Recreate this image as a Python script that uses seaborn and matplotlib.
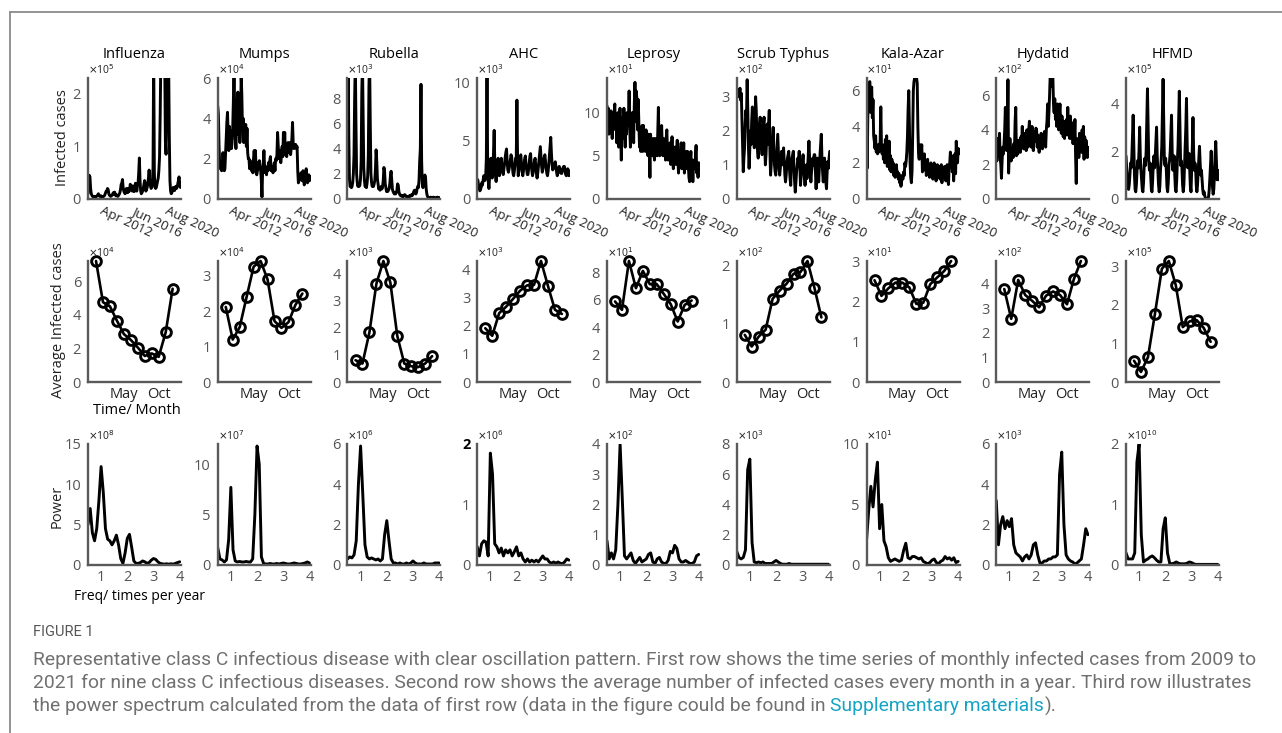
import numpy as np
import pandas as pd
import matplotlib
matplotlib.use('Agg')
import matplotlib.pyplot as plt
import seaborn as sns
from matplotlib.lines import Line2D
from matplotlib.transforms import ScaledTranslation
from matplotlib import font_manager

# ---------------- data ----------------
diseases = ['Influenza', 'Mumps', 'Rubella', 'AHC', 'Leprosy', 'Scrub Typhus',
            'Kala-Azar', 'Hydatid', 'HFMD']

date_ticks = [31, 81, 131]            # month index from Sep 2009
date_labels = ['Apr 2012', 'Jun 2016', 'Aug 2020']
months = list(range(1, 13))
month_ticks = [5, 10]
month_labels = ['May', 'Oct']
freq = [k / 12 for k in range(6, 49)]  # times per year
freq_ticks = [1, 2, 3, 4]

# row 1: monthly infected cases (scaled by 10^exp)
ts_influenza = [
    0.10, 0.30, 0.45, 0.42, 0.20, 0.10, 0.07, 0.05, 0.04, 0.04, 0.05, 0.04,
    0.04, 0.05, 0.06, 0.08, 0.10, 0.07, 0.05, 0.05, 0.06, 0.05, 0.04, 0.04,
    0.05, 0.06, 0.08, 0.12, 0.15, 0.14, 0.20, 0.18, 0.10, 0.07, 0.06, 0.05,
    0.06, 0.07, 0.10, 0.12, 0.09, 0.13, 0.08, 0.06, 0.08, 0.06, 0.05, 0.07,
    0.09, 0.12, 0.18, 0.28, 0.30, 0.37, 0.22, 0.15, 0.12, 0.10, 0.12, 0.20,
    0.15, 0.12, 0.20, 0.14, 0.18, 0.28, 0.22, 0.18, 0.15, 0.25, 0.18, 0.14,
    0.20, 0.30, 0.22, 0.15, 0.25, 0.30, 0.50, 0.78, 0.35, 0.15, 0.10, 0.12,
    0.15, 0.20, 0.28, 0.35, 0.30, 0.15, 0.18, 0.22, 0.30, 0.40, 0.55, 0.30,
    0.25, 0.20, 0.22, 0.30, 0.60, 2.80, 0.50, 0.22, 0.20, 0.22, 0.28, 0.35,
    0.40, 0.55, 0.80, 1.60, 2.70, 3.20, 3.00, 2.80, 3.10, 3.40, 2.60, 1.10,
    0.85, 1.80, 2.70, 3.00, 2.60, 1.20, 0.35, 0.15, 0.10, 0.12, 0.18, 0.22,
    0.20, 0.16, 0.20, 0.24, 0.20, 0.22, 0.28, 0.35, 0.42, 0.30, 0.22, 0.28]
ts_mumps = [
    4.6, 4.2, 2.6, 1.7, 1.5, 1.6, 1.4, 1.8, 2.3, 1.9, 1.4, 1.5,
    2.2, 3.0, 3.8, 4.3, 3.2, 2.4, 3.6, 2.6, 3.4, 2.5, 2.8, 3.5,
    4.8, 6.2, 4.5, 3.0, 2.5, 4.0, 3.2, 5.3, 4.0, 4.3, 2.8, 3.4,
    6.2, 5.2, 3.5, 4.0, 2.8, 3.3, 3.0, 3.7, 2.6, 3.5, 2.3, 2.0,
    2.0, 1.5, 1.9, 1.6, 1.4, 1.6, 1.3, 2.0, 2.4, 1.8, 2.4, 1.3,
    1.2, 1.4, 1.8, 1.5, 1.9, 1.6, 1.4, 0.9, 0.1, 1.4, 1.8, 2.4,
    1.6, 1.3, 1.5, 1.2, 1.6, 1.4, 1.8, 1.5, 1.9, 2.1, 1.4, 1.6,
    1.5, 1.3, 1.6, 1.8, 1.4, 2.0, 1.9, 2.2, 3.3, 2.6, 2.0, 2.4,
    2.0, 1.8, 2.2, 2.6, 2.1, 3.3, 2.4, 3.3, 2.2, 2.6, 2.1, 2.5,
    2.8, 2.3, 2.6, 2.8, 2.2, 2.5, 3.0, 3.8, 2.8, 2.5, 2.7, 2.6,
    2.7, 2.5, 2.6, 1.4, 0.8, 0.9, 1.2, 1.0, 1.3, 1.1, 0.9, 1.4,
    1.0, 0.7, 0.9, 1.2, 1.5, 1.1, 0.8, 1.0, 1.2, 0.9, 1.1, 1.0]
ts_rubella = [
    3.5, 11.0, 5.0, 1.6, 1.0, 1.1, 0.9, 1.0, 1.3, 2.0, 3.5, 8.0,
    11.0, 6.0, 2.0, 1.3, 1.0, 1.2, 1.0, 1.1, 1.6, 3.0, 8.5, 11.0,
    7.0, 2.5, 1.5, 1.0, 1.1, 0.9, 1.2, 1.8, 3.5, 9.0, 11.0, 6.0,
    2.0, 1.3, 1.0, 1.2, 1.0, 1.2, 1.5, 2.4, 3.9, 3.0, 1.6, 1.2,
    0.8, 0.9, 0.7, 0.8, 1.0, 0.8, 1.0, 1.5, 2.5, 2.2, 1.2, 0.9,
    0.6, 0.7, 0.6, 0.7, 0.8, 1.2, 1.8, 2.2, 1.5, 0.8, 0.6, 0.5,
    0.4, 0.5, 0.4, 0.5, 0.7, 1.2, 1.1, 0.6, 0.4, 0.3, 0.25, 0.3,
    0.2, 0.25, 0.2, 0.3, 0.35, 0.3, 0.2, 0.2, 0.15, 0.2, 0.2, 0.25,
    0.2, 0.3, 0.25, 0.35, 0.3, 0.45, 0.6, 0.7, 0.55, 0.4, 0.5, 0.8,
    1.0, 0.9, 1.5, 3.0, 4.0, 9.1, 3.0, 1.2, 0.9, 1.2, 1.6, 1.9,
    1.7, 0.8, 0.4, 0.2, 0.15, 0.1, 0.12, 0.1, 0.15, 0.1, 0.12, 0.1,
    0.15, 0.1, 0.12, 0.1, 0.1, 0.12, 0.15, 0.1, 0.12, 0.1, 0.1, 0.12]
ts_ahc = [
    1.7, 1.6, 1.2, 0.9, 0.7, 0.8, 1.0, 1.4, 1.2, 1.6, 2.0, 1.8,
    1.6, 2.0, 3.5, 10.8, 3.0, 1.5, 0.9, 2.0, 3.0, 3.5, 2.4, 1.8,
    2.5, 4.0, 5.9, 3.0, 2.0, 1.5, 2.2, 3.0, 3.5, 2.6, 2.0, 2.4,
    3.0, 3.5, 2.8, 2.3, 2.1, 2.6, 3.0, 3.6, 4.0, 4.3, 3.2, 2.5,
    2.3, 2.6, 3.0, 3.4, 3.8, 3.6, 2.8, 2.2, 2.0, 2.4, 3.0, 3.5,
    3.5, 8.5, 3.5, 2.0, 2.4, 3.0, 3.6, 3.8, 3.0, 2.4, 2.0, 2.4,
    3.0, 3.5, 3.7, 3.0, 2.5, 2.1, 2.1, 2.6, 3.2, 3.7, 3.9, 3.0,
    2.4, 2.0, 2.3, 2.8, 3.3, 3.5, 2.8, 2.2, 1.8, 2.2, 2.8, 3.5,
    4.0, 4.5, 3.6, 2.8, 2.3, 2.6, 3.2, 3.6, 3.8, 3.2, 2.6, 2.2,
    2.0, 2.4, 3.0, 3.8, 4.6, 5.3, 4.0, 3.0, 2.5, 2.6, 2.8, 3.0,
    3.2, 2.8, 2.3, 2.0, 2.2, 2.6, 2.8, 2.6, 2.3, 2.2, 2.2, 2.5,
    2.7, 2.8, 2.8, 2.4, 2.1, 2.0, 2.3, 2.6, 2.5, 2.0, 2.2, 2.4]
ts_leprosy = [
    10.8, 9.0, 10.5, 7.5, 9.8, 8.0, 10.2, 9.0, 7.0, 9.5, 8.5, 10.0,
    11.0, 8.0, 9.5, 6.5, 8.8, 10.0, 6.0, 9.0, 10.5, 7.5, 4.5, 8.5,
    9.5, 7.0, 10.5, 8.0, 6.0, 9.0, 7.5, 10.0, 8.5, 9.0, 12.5, 8.0,
    6.0, 9.5, 7.0, 10.0, 8.5, 6.5, 11.0, 13.5, 9.0, 12.5, 11.5, 8.0,
    11.5, 8.5, 6.0, 8.0, 5.5, 7.0, 8.5, 5.5, 8.5, 6.5, 7.5, 5.5,
    8.0, 6.0, 7.0, 5.0, 7.5, 6.0, 2.5, 7.5, 5.5, 6.5, 5.0, 7.0,
    6.0, 4.5, 7.0, 5.5, 6.5, 5.0, 7.5, 10.6, 6.5, 5.0, 7.0, 5.5,
    8.5, 6.0, 5.0, 7.0, 5.5, 6.5, 4.5, 7.0, 8.0, 5.5, 4.5, 6.0,
    5.0, 6.5, 4.0, 5.5, 7.2, 5.0, 3.5, 6.0, 5.0, 6.0, 4.0, 5.5,
    6.8, 4.5, 3.0, 5.5, 4.0, 5.5, 6.5, 3.5, 5.0, 4.5, 6.5, 3.0,
    5.0, 4.0, 5.5, 3.5, 5.5, 4.0, 2.5, 2.0, 4.5, 5.5, 3.0, 4.5,
    2.0, 4.0, 4.5, 3.5, 5.0, 6.2, 3.0, 4.0, 2.5, 4.2, 3.5, 4.0]
ts_scrub = [
    3.2, 3.1, 3.2, 3.0, 3.1, 3.25, 2.9, 3.1, 2.3, 1.5, 0.8, 1.2,
    1.5, 2.2, 2.6, 2.4, 3.5, 2.6, 1.5, 0.9, 1.5, 2.0, 1.6, 2.3,
    2.7, 2.2, 1.8, 1.5, 2.3, 3.0, 2.6, 1.8, 1.4, 1.2, 1.7, 2.2,
    2.4, 1.9, 1.5, 1.3, 1.8, 2.2, 2.4, 1.6, 1.0, 1.3, 1.8, 2.2,
    1.6, 2.2, 2.6, 1.4, 0.7, 1.0, 1.5, 1.8, 2.1, 1.5, 1.0, 0.8,
    0.7, 1.1, 1.5, 1.9, 1.4, 0.9, 0.7, 0.9, 1.2, 1.4, 1.3, 1.0,
    1.5, 1.1, 0.7, 0.5, 0.7, 1.0, 1.2, 1.3, 1.4, 0.9, 0.6, 0.4,
    1.0, 1.2, 1.3, 1.4, 0.9, 0.5, 0.2, 0.5, 0.8, 1.0, 1.2, 1.1,
    1.4, 1.0, 0.4, 0.7, 0.9, 1.1, 1.3, 0.9, 0.6, 0.4, 0.6, 1.0,
    0.6, 0.9, 1.3, 1.7, 1.2, 0.8, 0.5, 0.8, 1.0, 1.2, 1.0, 1.3,
    1.3, 0.8, 0.3, 0.8, 1.2, 0.9, 0.5, 0.9, 1.3, 1.6, 1.9, 1.2,
    0.8, 0.5, 0.9, 1.2, 0.8, 0.5, 0.3, 0.8, 1.1, 0.9, 1.2, 1.4]
ts_kala = [
    3.8, 1.7, 4.5, 6.0, 5.5, 6.5, 4.8, 5.8, 6.2, 4.5, 5.5, 3.5,
    3.2, 2.8, 3.5, 2.6, 2.9, 2.5, 3.0, 2.6, 2.8, 3.2, 5.1, 3.0,
    2.5, 2.8, 2.2, 3.0, 2.0, 3.3, 2.2, 3.5, 1.8, 2.6, 2.0, 3.2,
    1.6, 2.4, 1.5, 2.2, 1.7, 2.0, 1.3, 1.8, 1.2, 1.6, 1.9, 1.3,
    1.5, 1.1, 1.4, 0.9, 1.2, 0.7, 1.0, 1.3, 1.1, 1.5, 1.3, 2.0,
    1.8, 2.1, 2.6, 3.5, 5.0, 6.0, 4.0, 2.0, 1.2, 0.9, 1.5, 3.5,
    6.0, 6.5, 6.7, 6.7, 6.65, 6.7, 6.4, 4.0, 2.5, 2.2, 2.8, 3.0,
    2.6, 3.0, 1.5, 2.2, 1.8, 2.5, 1.6, 2.0, 1.3, 1.8, 2.2, 1.5,
    1.9, 1.2, 1.7, 2.0, 1.4, 1.8, 1.1, 1.6, 2.0, 1.3, 1.7, 1.0,
    1.5, 1.9, 1.2, 1.6, 1.8, 1.1, 1.5, 1.9, 0.9, 1.4, 1.7, 1.2,
    1.8, 1.3, 1.0, 1.5, 1.9, 1.2, 0.8, 1.6, 2.0, 2.6, 1.8, 2.4,
    1.5, 2.2, 1.0, 1.7, 2.5, 1.4, 3.2, 2.4, 2.0, 2.8, 2.5, 2.7]
ts_hydatid = [
    3.0, 2.2, 3.5, 2.5, 3.2, 3.8, 2.4, 2.0, 1.2, 2.2, 3.0, 2.6,
    3.2, 4.0, 5.3, 3.5, 2.8, 3.6, 6.9, 1.5, 2.5, 3.5, 2.8, 2.2,
    2.6, 3.0, 2.4, 3.2, 2.8, 4.5, 5.3, 2.5, 3.0, 2.6, 3.4, 2.8,
    3.2, 2.7, 3.6, 3.0, 4.2, 3.3, 2.9, 3.8, 3.2, 3.6, 2.8, 4.0,
    3.5, 3.0, 4.0, 4.5, 3.4, 3.8, 3.0, 4.2, 3.5, 2.8, 3.9, 3.3,
    3.6, 4.1, 4.0, 3.0, 3.7, 3.2, 2.7, 3.5, 3.0, 3.8, 3.4, 2.9,
    3.5, 3.1, 3.9, 3.4, 3.0, 4.0, 4.5, 5.5, 4.2, 5.0, 6.0, 7.2,
    7.2, 6.5, 7.0, 7.2, 5.5, 5.0, 5.8, 4.6, 5.0, 4.2, 5.5, 4.6,
    4.0, 5.0, 5.5, 4.4, 3.8, 4.8, 4.0, 3.6, 4.5, 3.5, 4.2, 3.8,
    4.6, 3.7, 5.3, 3.8, 4.2, 3.5, 4.8, 4.0, 3.5, 4.4, 3.2, 4.0,
    3.5, 4.6, 2.5, 0.9, 3.5, 2.8, 3.4, 2.4, 3.8, 3.0, 3.6, 2.7,
    4.0, 3.3, 4.2, 2.3, 3.6, 2.8, 3.4, 3.0, 2.4, 3.0, 2.5, 2.8]
ts_hfmd = [
    1.8, 1.3, 0.9, 0.5, 0.4, 0.6, 1.0, 1.5, 1.3, 1.8, 2.6, 3.5,
    2.2, 1.0, 0.4, 0.3, 0.6, 1.2, 1.6, 1.3, 2.0, 3.0, 1.8, 1.2,
    0.8, 0.4, 0.3, 0.7, 1.4, 1.7, 1.4, 2.0, 3.2, 4.6, 3.0, 1.6,
    1.2, 1.5, 0.9, 0.4, 0.3, 0.8, 1.5, 1.8, 1.3, 1.8, 2.4, 3.0,
    1.8, 1.2, 0.6, 0.3, 0.5, 1.2, 1.6, 2.2, 3.5, 5.0, 3.2, 1.6,
    1.4, 1.7, 1.2, 0.5, 0.3, 0.7, 1.4, 1.6, 2.0, 2.8, 3.5, 2.0,
    1.2, 1.5, 1.8, 1.0, 0.4, 0.3, 0.8, 1.6, 2.2, 3.4, 4.5, 3.0,
    1.4, 1.6, 1.3, 0.6, 0.3, 0.6, 1.4, 2.2, 3.0, 4.2, 2.4, 1.3,
    1.6, 1.9, 1.2, 0.5, 0.3, 1.2, 2.2, 3.4, 2.0, 1.2, 1.5, 1.3,
    0.6, 0.3, 0.6, 1.2, 1.7, 2.2, 1.5, 1.0, 1.2, 0.8, 0.4, 0.2,
    0.3, 0.15, 0.05, 0.0, 0.0, 0.0, 0.02, 0.1, 0.4, 0.9, 1.5, 2.0,
    1.2, 0.5, 0.2, 0.4, 1.0, 1.8, 2.4, 1.6, 0.8, 1.2, 1.0, 0.8]

# row 2: average infected cases per calendar month (scaled by 10^exp)
avg_influenza = [7.2, 4.75, 4.5, 3.65, 2.85, 2.5, 2.05, 1.55, 1.7, 1.5, 2.95, 5.55]
avg_mumps = [2.12, 1.2, 1.55, 2.41, 3.26, 3.42, 2.9, 1.72, 1.53, 1.69, 2.18, 2.5]
avg_rubella = [0.8, 0.68, 1.83, 3.62, 4.45, 3.66, 1.69, 0.68, 0.58, 0.55, 0.68, 0.95]
avg_ahc = [1.92, 1.65, 2.46, 2.69, 2.97, 3.26, 3.45, 3.47, 4.32, 3.43, 2.58, 2.43]
avg_leprosy = [5.87, 5.26, 8.82, 6.84, 8.1, 7.13, 7.13, 6.42, 5.67, 4.41, 5.62, 5.94]
avg_scrub = [0.81, 0.61, 0.78, 0.9, 1.43, 1.57, 1.69, 1.86, 1.89, 2.08, 1.62, 1.11]
avg_kala = [2.54, 2.15, 2.34, 2.48, 2.48, 2.36, 1.95, 1.98, 2.44, 2.61, 2.77, 3.02]
avg_hydatid = [3.78, 2.57, 4.15, 3.54, 3.3, 3.04, 3.51, 3.68, 3.54, 3.16, 4.19, 4.92]
avg_hfmd = [0.55, 0.26, 0.64, 1.76, 2.93, 3.13, 2.5, 1.42, 1.57, 1.6, 1.4, 1.04]

# row 3: power spectrum (scaled by 10^exp)
pw_influenza = [5.0, 7.0, 4.0, 3.0, 4.5, 8.0, 12.2, 9.0, 4.5, 3.2,
                3.0, 2.5, 3.0, 3.7, 2.5, 0.8, 0.2, 1.5, 3.3, 3.8,
                2.2, 0.5, 0.2, 0.2, 0.3, 0.5, 0.4, 0.2, 0.3, 0.6,
                0.8, 0.7, 0.4, 0.2, 0.15, 0.1, 0.15, 0.1, 0.15, 0.1,
                0.2, 0.3, 0.4]
pw_mumps = [1.7, 0.6, 0.5, 0.3, 0.5, 2.5, 7.7, 1.5, 0.4, 0.3,
            0.35, 0.3, 0.3, 0.35, 0.3, 0.3, 0.6, 5.0, 11.8, 10.0,
            0.8, 0.15, 0.1, 0.1, 0.15, 0.1, 0.1, 0.15, 0.1, 0.15,
            0.2, 0.15, 0.1, 0.1, 0.15, 0.2, 0.15, 0.1, 0.1, 0.15,
            0.2, 0.3, 0.2]
pw_rubella = [0.3, 0.4, 0.35, 0.5, 1.2, 4.0, 5.9, 3.5, 1.0, 0.4,
              0.3, 0.35, 0.3, 0.25, 0.3, 0.2, 0.3, 1.5, 2.2, 1.2,
              0.3, 0.1, 0.1, 0.05, 0.1, 0.05, 0.05, 0.1, 0.05, 0.1,
              0.2, 0.1, 0.05, 0.05, 0.05, 0.1, 0.05, 0.05, 0.05, 0.05,
              0.1, 0.1, 0.1]
pw_ahc = [0.3, 0.15, 0.35, 0.4, 0.38, 0.15, 1.85, 1.5, 0.35, 0.3,
          0.2, 0.28, 0.15, 0.25, 0.2, 0.25, 0.15, 0.22, 0.3, 0.15,
          0.2, 0.1, 0.05, 0.1, 0.05, 0.08, 0.05, 0.08, 0.05, 0.1,
          0.15, 0.1, 0.1, 0.05, 0.03, 0.05, 0.03, 0.05, 0.03, 0.02,
          0.05, 0.1, 0.08]
pw_leprosy = [0.8, 0.2, 0.4, 0.2, 0.5, 2.0, 4.0, 2.2, 0.3, 0.2,
              0.3, 0.4, 0.15, 0.05, 0.15, 0.25, 0.1, 0.15, 0.2, 0.35,
              0.4, 0.1, 0.05, 0.2, 0.25, 0.1, 0.05, 0.05, 0.15, 0.45,
              0.4, 0.65, 0.55, 0.2, 0.1, 0.1, 0.15, 0.1, 0.05, 0.05,
              0.1, 0.3, 0.35]
pw_scrub = [0.9, 0.5, 0.4, 0.5, 1.0, 6.3, 7.0, 1.5, 0.2, 0.15,
            0.2, 0.15, 0.2, 0.1, 0.1, 0.1, 0.1, 0.2, 0.3, 0.2,
            0.1, 0.05, 0.05, 0.05, 0.1, 0.05, 0.05, 0.05, 0.05, 0.05,
            0.05, 0.05, 0.05, 0.05, 0.05, 0.05, 0.05, 0.05, 0.05, 0.05,
            0.05, 0.05, 0.05]
pw_kala = [2.0, 4.5, 6.5, 4.8, 7.0, 8.5, 3.0, 5.0, 2.0, 1.5,
           0.6, 0.3, 0.4, 0.5, 0.4, 0.3, 0.4, 1.2, 1.8, 0.6,
           0.5, 0.7, 0.7, 0.6, 0.5, 0.6, 0.3, 0.2, 0.1, 0.2,
           0.4, 0.5, 0.2, 0.1, 0.3, 0.4, 0.7, 0.5, 0.6, 0.4,
           0.6, 0.2, 0.3]
pw_hydatid = [3.2, 1.0, 2.0, 2.4, 1.8, 2.2, 1.9, 2.3, 1.0, 0.6,
              0.5, 0.4, 0.2, 0.4, 0.5, 0.3, 0.5, 1.0, 1.1, 0.5,
              0.1, 0.1, 0.2, 0.2, 0.3, 0.3, 0.4, 0.4, 0.5, 4.5,
              5.6, 2.0, 0.5, 0.3, 0.2, 0.15, 0.05, 0.1, 0.2, 0.3,
              1.0, 1.8, 1.5]
pw_hfmd = [0.2, 0.1, 0.1, 0.1, 0.2, 1.7, 2.0, 0.5, 0.05, 0.08,
           0.1, 0.13, 0.15, 0.12, 0.08, 0.05, 0.05, 0.6, 0.78, 0.2,
           0.03, 0.02, 0.03, 0.05, 0.03, 0.02, 0.02, 0.02, 0.03, 0.05,
           0.04, 0.02, 0.01, 0.01, 0.01, 0.01, 0.01, 0.01, 0.01, 0.01,
           0.01, 0.01, 0.01]

exp_row1 = [5, 4, 3, 3, 1, 2, 1, 2, 5]
exp_row2 = [4, 4, 3, 3, 1, 2, 1, 2, 5]
exp_row3 = [8, 7, 6, 6, 2, 3, 1, 3, 10]

series_row1 = [ts_influenza, ts_mumps, ts_rubella, ts_ahc, ts_leprosy, ts_scrub,
               ts_kala, ts_hydatid, ts_hfmd]
series_row2 = [avg_influenza, avg_mumps, avg_rubella, avg_ahc, avg_leprosy, avg_scrub,
               avg_kala, avg_hydatid, avg_hfmd]
series_row3 = [pw_influenza, pw_mumps, pw_rubella, pw_ahc, pw_leprosy, pw_scrub,
               pw_kala, pw_hydatid, pw_hfmd]

# ---------------- styling / layout ----------------
ylim_row1 = [2.3, 6, 9.6, 10.4, 14, 3.55, 6.7, 7.0, 5.05]
yt_row1 = [[0, 1, 2], [0, 2, 4, 6], [0, 2, 4, 6, 8], [0, 5, 10], [0, 5, 10],
           [0, 1, 2, 3], [0, 2, 4, 6], [0, 2, 4, 6], [0, 2, 4]]
yt_row2 = [[0, 2, 4, 6], [0, 1, 2, 3], [0, 1, 2, 3, 4], [0, 1, 2, 3, 4], [0, 2, 4, 6, 8],
           [0, 1, 2], [0, 1, 2, 3], [0, 1, 2, 3, 4], [0, 1, 2, 3]]
ylim_row3 = [15, 12, 6, 2, 4, 8, 10, 6, 2]
yt_row3 = [[0, 5, 10, 15], [0, 5, 10], [0, 2, 4, 6], [0, 1, 2], [0, 1, 2, 3, 4],
           [0, 2, 4, 6, 8], [0, 5, 10], [0, 2, 4, 6], [0, 1, 2]]

sns.set_theme(style='white')
plt.rcParams['font.family'] = ['Open Sans', 'DejaVu Sans']
plt.rcParams['mathtext.fontset'] = 'dejavusans'

W, H = 1282, 733
fig = plt.figure(figsize=(W / 100, H / 100), dpi=100)
fig.patch.set_facecolor('white')

axis_col = '#5a5a5a'
tick_col = '#555555'
lefts = [88 + i * 129.75 for i in range(9)]
axw, axh = 93, 121
rows_top = [78, 261, 444]


def make_ax(r, c):
    ax = fig.add_axes([lefts[c] / W, 1 - (rows_top[r] + axh) / H, axw / W, axh / H])
    ax.set_facecolor('none')
    for s in ['top', 'right']:
        ax.spines[s].set_visible(False)
    for s in ['left', 'bottom']:
        ax.spines[s].set_color(axis_col)
        ax.spines[s].set_linewidth(1.7)
    ax.tick_params(direction='in', length=3, width=1, colors=axis_col,
                   labelsize=10.5, labelcolor=tick_col)
    ax.tick_params(axis='y', pad=5)
    return ax


def offset_label(ax, e):
    ax.text(0.0, 1.005, r'$\times$10$^{%d}$' % e, transform=ax.transAxes,
            ha='left', va='bottom', fontsize=7.5, color='#222222')


for c in range(9):
    # ---- row 1 ----
    ax = make_ax(0, c)
    y = series_row1[c]
    sns.lineplot(x=list(range(len(y))), y=y, ax=ax, color='black', linewidth=2.1)
    ax.set_xlim(0, 143)
    ax.set_ylim(0, ylim_row1[c])
    ax.set_yticks(yt_row1[c])
    ax.set_yticklabels([str(v) for v in yt_row1[c]])
    ax.set_xticks(date_ticks)
    ax.set_xticklabels(date_labels, rotation=-25, ha='left', va='top',
                       rotation_mode='anchor', color='#222222', fontsize=9.5)
    for lbl in ax.get_xticklabels():
        lbl.set_transform(lbl.get_transform() + ScaledTranslation(-0.05, 0, fig.dpi_scale_trans))
    ax.set_xlabel('')
    ax.set_ylabel('')
    offset_label(ax, exp_row1[c])
    ax.text(0.5, 1 + 23 / axh, diseases[c], transform=ax.transAxes, ha='center',
            va='center', fontsize=10.5, color='black')

    # ---- row 2 ----
    ax = make_ax(1, c)
    y = series_row2[c]
    sns.lineplot(x=months, y=y, ax=ax, color='black', linewidth=1.9, marker='o',
                 markersize=7, markerfacecolor='none', markeredgecolor='black',
                 markeredgewidth=2.1, clip_on=False)
    ax.set_xlim(-0.15, 13.2)
    ax.set_ylim(0, max(y))
    ax.set_yticks(yt_row2[c])
    ax.set_yticklabels([str(v) for v in yt_row2[c]])
    ax.set_xticks(month_ticks)
    ax.set_xticklabels(month_labels, color='#222222')
    ax.set_xlabel('')
    ax.set_ylabel('')
    offset_label(ax, exp_row2[c])

    # ---- row 3 ----
    ax = make_ax(2, c)
    y = series_row3[c]
    sns.lineplot(x=freq, y=y, ax=ax, color='black', linewidth=2.1)
    ax.set_xlim(0.5, 4.05)
    ax.set_ylim(0, ylim_row3[c])
    ax.set_yticks(yt_row3[c])
    ax.set_yticklabels([str(v) for v in yt_row3[c]])
    ax.set_xticks(freq_ticks)
    ax.set_xticklabels([str(v) for v in freq_ticks])
    ax.set_xlabel('')
    ax.set_ylabel('')
    offset_label(ax, exp_row3[c])
    if diseases[c] == 'AHC':
        lab = ax.get_yticklabels()[-1]
        lab.set_color('black')
        lab.set_fontweight('bold')

# row / axis labels
fig.text(62 / W, 1 - 138 / H, 'Infected cases', rotation=90, ha='center', va='center',
         fontsize=10.5, color='#222222')
fig.text(58 / W, 1 - 320 / H, 'Average Infected cases', rotation=90, ha='center',
         va='center', fontsize=10.5, color='#222222')
fig.text(57 / W, 1 - 506 / H, 'Power', rotation=90, ha='center', va='center',
         fontsize=10.5, color='#222222')
fig.text(137 / W, 1 - 410 / H, 'Time/ Month', ha='center', va='center', fontsize=10.5,
         color='black')
fig.text(139 / W, 1 - 596 / H, 'Freq/ times per year', ha='center', va='center',
         fontsize=10, color='black')

# frame
fig.add_artist(Line2D([10 / W, 1], [1 - 12 / H, 1 - 12 / H], color='#8a8a8a', lw=1.3))
fig.add_artist(Line2D([10 / W, 10 / W], [0, 1 - 12 / H], color='#8a8a8a', lw=1.3))

# caption
names = {f.name for f in font_manager.fontManager.ttflist}
cap_font = 'Liberation Sans Narrow' if 'Liberation Sans Narrow' in names else 'Roboto'
cap_col = '#707070'
link_col = '#14a3c2'
fig.canvas.draw()
renderer = fig.canvas.get_renderer()

fig.text(33 / W, 1 - 632 / H, 'FIGURE 1', ha='left', va='center', fontsize=10.5,
         color='#555555', family=cap_font)
cap1 = ('Representative class C infectious disease with clear oscillation pattern. '
        'First row shows the time series of monthly infected cases from 2009 to')
cap2 = ('2021 for nine class C infectious diseases. Second row shows the average number '
        'of infected cases every month in a year. Third row illustrates')
cap3a = 'the power spectrum calculated from the data of first row (data in the figure could be found in '
cap3b = 'Supplementary materials'
cap3c = ').'
t1 = fig.text(33 / W, 1 - 660 / H, cap1, ha='left', va='center', fontsize=12,
              color=cap_col, family=cap_font)
w1 = t1.get_window_extent(renderer).width
fs = 12 * 1222 / w1
t1.set_fontsize(fs)
fig.text(33 / W, 1 - 683 / H, cap2, ha='left', va='center', fontsize=fs,
         color=cap_col, family=cap_font)
xpos = 33
for part, col in [(cap3a, cap_col), (cap3b, link_col), (cap3c, cap_col)]:
    t = fig.text(xpos / W, 1 - 706 / H, part, ha='left', va='center', fontsize=fs,
                 color=col, family=cap_font)
    xpos += t.get_window_extent(renderer).width

fig.savefig('out.png', dpi=100)
